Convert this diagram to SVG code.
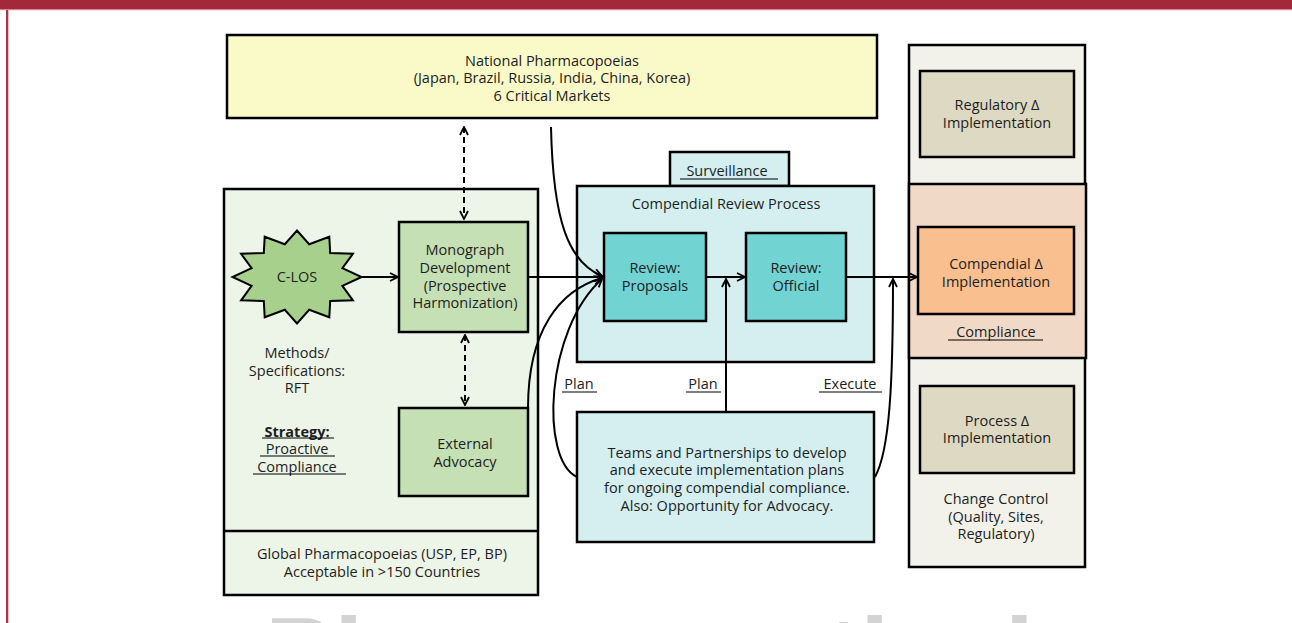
<svg xmlns="http://www.w3.org/2000/svg" width="1292" height="623" viewBox="0 0 1292 623">
<defs>
<style>
text{font-family:"Open Sans","Noto Sans","DejaVu Sans",sans-serif;font-size:14.5px;fill:#1e1e1e;text-anchor:middle}
.box{stroke:#000;stroke-width:2.5}
.ln{fill:none;stroke:#000;stroke-width:2}
.dash{fill:none;stroke:#000;stroke-width:2;stroke-dasharray:6 4}
.ul{stroke:#000;stroke-width:1.2}
</style>
<marker id="ah" viewBox="0 0 10 10" refX="9" refY="5" markerWidth="10" markerHeight="10" markerUnits="userSpaceOnUse" orient="auto-start-reverse">
<path d="M1,1 L9,5 L1,9" fill="none" stroke="#000" stroke-width="1.8" stroke-dasharray="none"/>
</marker>
</defs>
<rect width="1292" height="623" fill="#fff"/>
<g id="frame">
<rect x="0" y="0" width="1292" height="9" fill="#a3293a"/>
<rect x="0" y="9" width="1292" height="1.2" fill="#d98590"/>
<rect x="6" y="10" width="2.3" height="613" fill="#a93546"/>
</g>
<g id="watermark">
<text x="265" y="690" style="font-family:'Liberation Sans',Arial,sans-serif;font-size:104px;font-weight:bold;fill:#d3d3d3;text-anchor:start">Pharmaceutical</text>
</g>
<g id="national">
<rect class="box" x="227" y="35" width="650" height="83" fill="#fafac8"/>
<text x="552" y="66">National Pharmacopoeias</text>
<text x="552" y="83">(Japan, Brazil, Russia, India, China, Korea)</text>
<text x="552" y="101">6 Critical Markets</text>
</g>
<g id="global">
<rect class="box" x="224" y="189" width="314" height="406" fill="#edf4e8"/>
<line class="ul" x1="224" y1="531" x2="538" y2="531" style="stroke-width:2.5"/>
<text x="382" y="559">Global Pharmacopoeias (USP, EP, BP)</text>
<text x="382" y="577">Acceptable in &gt;150 Countries</text>
<text x="297" y="358">Methods/</text>
<text x="297" y="376">Specifications:</text>
<text x="297" y="393">RFT</text>
<text x="297" y="437" style="font-weight:bold">Strategy:</text>
<line class="ul" x1="262" y1="438" x2="334" y2="438"/>
<text x="297" y="454">Proactive</text>
<line class="ul" x1="260" y1="456" x2="335" y2="456"/>
<text x="297" y="472">Compliance</text>
<line class="ul" x1="253" y1="474" x2="346" y2="474"/>
</g>
<g id="clos">
<polygon points="361.5,277 342.4,285.8 352.9,300.3 330.2,301 329.3,317.3 309.2,309.8 297,323.5 284.8,309.8 264.7,317.3 263.8,301 241.1,300.3 251.6,285.8 232.5,277 251.6,268.2 241.1,253.8 263.8,253 264.7,236.7 284.8,244.2 297,230.5 309.2,244.2 329.3,236.7 330.2,253 352.9,253.8 342.4,268.2" fill="#a8d08d" stroke="#000" stroke-width="2"/>
<text x="297" y="282">C-LOS</text>
</g>
<g id="monograph">
<rect class="box" x="399" y="222" width="129" height="110" fill="#c5e0b4"/>
<text x="465" y="255">Monograph</text>
<text x="465" y="273">Development</text>
<text x="465" y="291">(Prospective</text>
<text x="465" y="308">Harmonization)</text>
</g>
<g id="advocacy">
<rect class="box" x="399" y="408" width="129" height="88" fill="#c5e0b4"/>
<text x="465" y="449">External</text>
<text x="465" y="467">Advocacy</text>
</g>
<g id="surveillance">
<rect class="box" x="670" y="152" width="119" height="34" fill="#d5eff0"/>
<text x="727" y="176">Surveillance</text>
<line class="ul" x1="680" y1="179" x2="778" y2="179"/>
</g>
<g id="review-process">
<rect class="box" x="577" y="186" width="297" height="176" fill="#d5eff0"/>
<text x="726" y="209">Compendial Review Process</text>
</g>
<g id="proposals">
<rect class="box" x="604" y="233" width="102" height="88" fill="#72d3d3"/>
<text x="655" y="273">Review:</text>
<text x="655" y="291">Proposals</text>
</g>
<g id="official">
<rect class="box" x="746" y="233" width="100" height="88" fill="#72d3d3"/>
<text x="796" y="273">Review:</text>
<text x="796" y="291">Official</text>
</g>
<g id="teams">
<rect class="box" x="577" y="412" width="297" height="130" fill="#d5eff0"/>
<text x="727" y="458">Teams and Partnerships to develop</text>
<text x="727" y="475">and execute implementation plans</text>
<text x="727" y="493">for ongoing compendial compliance.</text>
<text x="727" y="511">Also: Opportunity for Advocacy.</text>
</g>
<g id="labels">
<text x="579" y="389">Plan</text>
<line class="ul" x1="562" y1="392" x2="597" y2="392"/>
<text x="703" y="389">Plan</text>
<line class="ul" x1="686" y1="392" x2="721" y2="392"/>
<text x="850" y="389">Execute</text>
<line class="ul" x1="819" y1="392" x2="882" y2="392"/>
</g>
<g id="change-control">
<rect class="box" x="909" y="45" width="176" height="522" fill="#f2f1ea"/>
<text x="996" y="504">Change Control</text>
<text x="996" y="522">(Quality, Sites,</text>
<text x="996" y="539">Regulatory)</text>
</g>
<g id="compliance">
<rect class="box" x="909" y="184" width="177" height="174" fill="#f0dac7"/>
<text x="996" y="337">Compliance</text>
<line class="ul" x1="948" y1="340" x2="1043" y2="340"/>
</g>
<g id="regulatory">
<rect class="box" x="920" y="71" width="154" height="86" fill="#ddd9c3"/>
<text x="997" y="110">Regulatory Δ</text>
<text x="997" y="128">Implementation</text>
</g>
<g id="compendial">
<rect class="box" x="918" y="227" width="156" height="87" fill="#f9bf8f"/>
<text x="996" y="269">Compendial Δ</text>
<text x="996" y="287">Implementation</text>
</g>
<g id="process">
<rect class="box" x="920" y="386" width="154" height="87" fill="#ddd9c3"/>
<text x="997" y="426">Process Δ</text>
<text x="997" y="443">Implementation</text>
</g>
<g id="connectors">
<path class="dash" d="M464,127 L464,219" marker-start="url(#ah)" marker-end="url(#ah)"/>
<path class="dash" d="M465,335 L465,405" marker-start="url(#ah)" marker-end="url(#ah)"/>
<path class="ln" d="M362,277 L398,277" marker-end="url(#ah)"/>
<path class="ln" d="M528,277 L603,277" marker-end="url(#ah)"/>
<path class="ln" d="M551,127 C553,220 568,262 602,276" marker-end="url(#ah)"/>
<path class="ln" d="M528,408 C528,330 560,290 602,278" marker-end="url(#ah)"/>
<path class="ln" d="M577,477 C540,460 545,330 602,279" marker-end="url(#ah)"/>
<path class="ln" d="M706,277 L745,277" marker-end="url(#ah)"/>
<path class="ln" d="M726,412 L726,279" marker-end="url(#ah)"/>
<path class="ln" d="M846,277 L917,277" marker-end="url(#ah)"/>
<path class="ln" d="M875,477 C890,450 893,380 893,279" marker-end="url(#ah)"/>
</g>
</svg>
